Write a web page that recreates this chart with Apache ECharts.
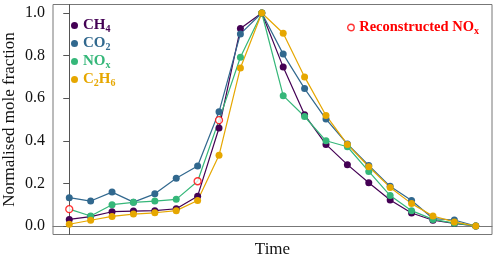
<!DOCTYPE html>
<html><head><meta charset="utf-8">
<script src="https://cdn.jsdelivr.net/npm/echarts@6/dist/echarts.min.js"></script>
<style>html,body{margin:0;padding:0;background:#fff}#c{width:500px;height:260px}</style>
</head><body><div id="c"></div>
<script>
const times = [0,1,2,3,4,5,6,7,8,9,10,11,12,13,14,15,16,17,18,19];
const ch4  = [0.031,0.044,0.067,0.070,0.072,0.081,0.140,0.460,0.927,1.0,0.746,0.522,0.383,0.288,0.203,0.122,0.061,0.027,0.012,0.0];
const co2  = [0.133,0.117,0.159,0.112,0.151,0.224,0.282,0.536,0.902,1.0,0.807,0.645,0.502,0.385,0.284,0.186,0.120,0.035,0.028,0.0];
const nox  = [0.079,0.047,0.100,0.111,0.117,0.125,0.210,0.497,0.792,1.0,0.612,0.514,0.400,0.372,0.256,0.143,0.072,0.031,0.013,0.0];
const c2h6 = [0.008,0.027,0.045,0.056,0.062,0.072,0.120,0.332,0.742,1.0,0.905,0.700,0.519,0.383,0.278,0.181,0.105,0.047,0.019,0.0];
const reconstructedIdx = [0,6,7];
const yTicks = [0,0.2,0.4,0.6,0.8,1.0];

const FONT = '"Liberation Serif","Times New Roman",serif';
const colors = {CH4:'#440154', CO2:'#31688E', NOx:'#35B779', C2H6:'#E6A700'};
const labelRich = {CH4:'CH{s|4}', CO2:'CO{s|2}', NOx:'NO{s|x}', C2H6:'C{s|2}H{s|6}', Rec:'Reconstructed NO{s|x}'};

function pairs(arr, skip){
  return times.map((t,i)=> skip && skip.includes(i) ? {value:[t,arr[i]], symbol:'none'} : [t,arr[i]]);
}
function lineSeries(name, arr, skip){
  return {name, type:'line', data:pairs(arr, skip), symbol:'circle', symbolSize:7,
    itemStyle:{color:colors[name]}, lineStyle:{color:colors[name], width:1.2}, z:2};
}
const chart = echarts.init(document.getElementById('c'), null, {renderer:'canvas'});
const sub = {fontSize:10, fontWeight:'bold', fontFamily:FONT, padding:[7,0,0,0]};
chart.setOption({
  animation:false,
  textStyle:{fontFamily:FONT},
  grid:{left:53, right:8, top:4.5, bottom:25.5, show:true, borderColor:'#777', borderWidth:1, outerBoundsMode:'none', containLabel:false},
  xAxis:{type:'value', min:-0.76, max:19.76, axisLabel:{show:false}, axisTick:{show:false}, splitLine:{show:false},
    axisLine:{show:true, lineStyle:{color:'#777'}},
    name:'Time', nameLocation:'middle', nameGap:7, nameTextStyle:{fontFamily:FONT, fontSize:17, color:'#111', verticalAlign:'top'}},
  yAxis:{type:'value', min:-0.04, max:1.04, splitLine:{show:false},
    axisLine:{show:true, lineStyle:{color:'#555'}},
    axisTick:{show:true, length:6, customValues:yTicks, lineStyle:{color:'#555'}},
    axisLabel:{customValues:yTicks, formatter:v=>v.toFixed(1), fontFamily:FONT, fontSize:16, color:'#111', margin:8},
    name:'Normalised mole fraction', nameLocation:'middle', nameGap:35, nameRotate:90, nameMoveOverlap:false,
    nameTextStyle:{fontFamily:FONT, fontSize:17, color:'#111'}},
  legend:[{
    left:66, top:13, orient:'vertical', itemWidth:7, itemHeight:7, itemGap:2, icon:'circle',
    data:['CH4','CO2','NOx','C2H6'].map(n=>({name:n, textStyle:{color:colors[n]}})),
    formatter:n=>labelRich[n],
    textStyle:{fontFamily:FONT, fontWeight:'bold', fontSize:15, rich:{s:sub}}
  },{
    left:342, top:15, itemWidth:6.5, itemHeight:6.5, itemGap:4, icon:'circle',
    data:[{name:'Rec', icon:'circle', itemStyle:{color:'#fff', borderColor:'#FF0000', borderWidth:1.4}, textStyle:{color:'#FF0000'}}],
    formatter:n=>labelRich[n],
    textStyle:{fontFamily:FONT, fontWeight:'bold', fontSize:14.5, rich:{s:sub}}
  }],
  series:[
    lineSeries('CH4', ch4),
    lineSeries('CO2', co2),
    lineSeries('NOx', nox, reconstructedIdx),
    lineSeries('C2H6', c2h6),
    {name:'Rec', type:'scatter', symbol:'circle', symbolSize:7, z:5,
      data:reconstructedIdx.map(i=>[times[i], nox[i]]),
      itemStyle:{color:'#fff', borderColor:'#FF0000', borderWidth:1.3}}
  ]
});
</script></body></html>
